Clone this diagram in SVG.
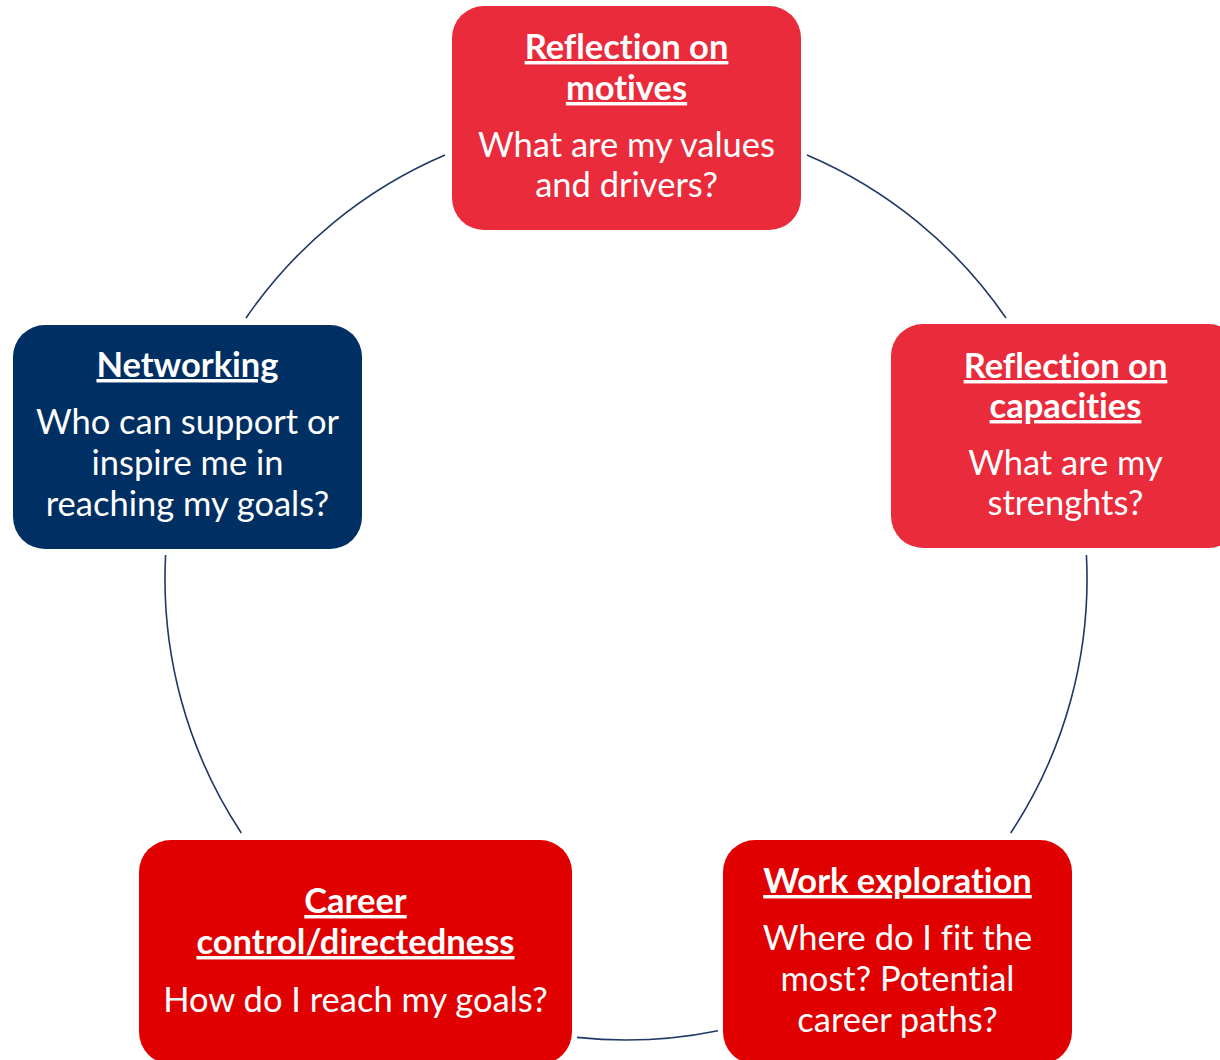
<svg xmlns="http://www.w3.org/2000/svg" width="1220" height="1060" viewBox="0 0 1220 1060">
<style>
.arc{fill:none;stroke:#1F3864;stroke-width:1.6}
.box{stroke:none}
.pink{fill:#E92B3B}
.red{fill:#E00000}
.navy{fill:#002F64}
text{font-family:Lato,"Liberation Sans",sans-serif;fill:#FFFFFF;text-anchor:middle;font-size:34.5px;font-variant-ligatures:none}
.t{font-weight:bold;text-decoration:underline}
</style>
<rect width="1220" height="1060" fill="#FFFFFF"/>
<g id="connectors">
<path class="arc" d="M 807 155 A 461 461 0 0 1 1006 318"/>
<path class="arc" d="M 1086.4 555 A 461 461 0 0 1 1010.7 833"/>
<path class="arc" d="M 718 1030.7 A 461 461 0 0 1 577 1037.4"/>
<path class="arc" d="M 241.3 833 A 461 461 0 0 1 165.6 555"/>
<path class="arc" d="M 246 318 A 461 461 0 0 1 445 155"/>
</g>
<g id="motives">
<rect class="box pink" x="452" y="6" width="349" height="224" rx="32"/>
<text class="t" x="626.5" y="59">Reflection on</text>
<text class="t" x="626.5" y="100">motives</text>
<text x="626.5" y="157">What are my values</text>
<text x="626.5" y="197">and drivers?</text>
</g>
<g id="capacities">
<rect class="box pink" x="891" y="324" width="349" height="224" rx="32"/>
<text class="t" x="1065.5" y="378">Reflection on</text>
<text class="t" x="1065.5" y="418">capacities</text>
<text x="1065.5" y="475">What are my</text>
<text x="1065.5" y="515">strenghts?</text>
</g>
<g id="networking">
<rect class="box navy" x="13" y="325" width="349" height="224" rx="32"/>
<text class="t" x="187.5" y="377">Networking</text>
<text x="187.5" y="434">Who can support or</text>
<text x="187.5" y="475">inspire me in</text>
<text x="187.5" y="516">reaching my goals?</text>
</g>
<g id="career">
<rect class="box red" x="139" y="840" width="433" height="224" rx="32"/>
<text class="t" x="355.5" y="913">Career</text>
<text class="t" x="355.5" y="954">control/directedness</text>
<text x="355.5" y="1012">How do I reach my goals?</text>
</g>
<g id="work">
<rect class="box red" x="723" y="840" width="349" height="224" rx="32"/>
<text class="t" x="897.5" y="893">Work exploration</text>
<text x="897.5" y="950">Where do I fit the</text>
<text x="897.5" y="991">most? Potential</text>
<text x="897.5" y="1032">career paths?</text>
</g>
</svg>
